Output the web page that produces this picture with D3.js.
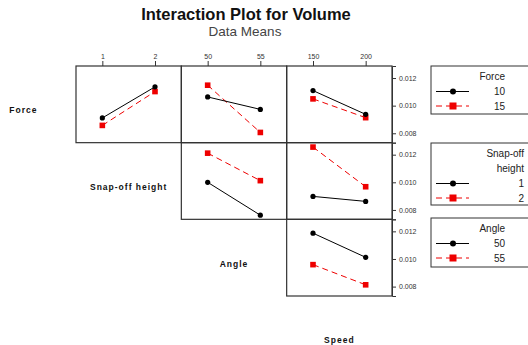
<!DOCTYPE html>
<html>
<head>
<meta charset="utf-8">
<script src="https://cdn.jsdelivr.net/npm/d3@7"></script>
<style>
  body { margin: 0; background: #fff; }
  svg { display: block; font-family: "Liberation Sans", Arial, sans-serif; }
</style>
</head>
<body>
<svg id="chart" width="528" height="345"></svg>
<script>
'use strict';

var factors = ['Force', 'Snap-off height', 'Angle', 'Speed'];
var levels = [[10, 15], [1, 2], [50, 55], [150, 200]];
var yTicks = [0.008, 0.010, 0.012];

// means: [trace level][x level]
var forceBySnap = [[0.00911, 0.01136], [0.00857, 0.01102]];
var forceByAngle = [[0.01063, 0.00973], [0.01148, 0.00806]];
var forceBySpeed = [[0.01109, 0.00937], [0.01049, 0.00913]];
var snapByAngle = [[0.01000, 0.00762], [0.01211, 0.01012]];
var snapBySpeed = [[0.00898, 0.00862], [0.01255, 0.00968]];
var angleBySpeed = [[0.01187, 0.01012], [0.00959, 0.00813]];

var panels = [
  {row: 0, col: 0, trace: 0, xf: 1, means: forceBySnap},
  {row: 0, col: 1, trace: 0, xf: 2, means: forceByAngle},
  {row: 0, col: 2, trace: 0, xf: 3, means: forceBySpeed},
  {row: 1, col: 1, trace: 1, xf: 2, means: snapByAngle},
  {row: 1, col: 2, trace: 1, xf: 3, means: snapBySpeed},
  {row: 2, col: 2, trace: 2, xf: 3, means: angleBySpeed}
];

var colors = ['#000000', '#ee0000'];
var dashes = [null, '6,4'];

var svg = d3.select('#chart');
var colX = d3.scaleLinear().domain([0, 3]).range([76, 392]);
var rowY = d3.scaleLinear().domain([0, 3]).range([66, 296]);
var cellW = colX(1) - colX(0), cellH = rowY(1) - rowY(0);

// title
svg.append('text').attr('x', 246).attr('y', 20).attr('text-anchor', 'middle')
  .attr('font-size', 16.5).attr('font-weight', 'bold').attr('fill', '#111')
  .text('Interaction Plot for Volume');
svg.append('text').attr('x', 245).attr('y', 36).attr('text-anchor', 'middle')
  .attr('font-size', 13.5).attr('fill', '#444').text('Data Means');

// diagonal labels
factors.forEach(function(f, i) {
  svg.append('text')
    .attr('x', colX(i - 1) + cellW / 2)
    .attr('y', rowY(i) + cellH / 2 + 9)
    .attr('text-anchor', 'middle')
    .attr('font-size', 8.5).attr('font-weight', 'bold')
    .attr('letter-spacing', 1).attr('fill', '#111')
    .text(f);
});

function xScaleFor(p) {
  var lv = levels[p.xf], d = lv[1] - lv[0];
  return d3.scaleLinear().domain([lv[0] - d / 2, lv[1] + d / 2])
    .range([colX(p.col), colX(p.col + 1)]);
}
function yScaleFor(row) {
  return d3.scaleLinear().domain([0.00732, 0.01287]).range([rowY(row + 1), rowY(row)]);
}

panels.forEach(function(p) {
  var x = xScaleFor(p), y = yScaleFor(p.row);
  var g = svg.append('g');
  g.append('rect')
    .attr('x', colX(p.col)).attr('y', rowY(p.row))
    .attr('width', cellW).attr('height', cellH)
    .attr('fill', 'none').attr('stroke', '#333').attr('stroke-width', 1.2);

  // draw red first so black sits on top
  [1, 0].forEach(function(t) {
    var pts = levels[p.xf].map(function(lv, k) { return [x(lv), y(p.means[t][k])]; });
    g.append('path').attr('d', d3.line()(pts))
      .attr('fill', 'none').attr('stroke', colors[t]).attr('stroke-width', 1)
      .attr('stroke-dasharray', dashes[t]);
    pts.forEach(function(pt) {
      if (t === 0) {
        g.append('circle').attr('cx', pt[0]).attr('cy', pt[1]).attr('r', 2.6).attr('fill', colors[t]);
      } else {
        g.append('rect').attr('x', pt[0] - 2.8).attr('y', pt[1] - 2.8)
          .attr('width', 5.6).attr('height', 5.6).attr('fill', colors[t]);
      }
    });
  });
});

// top x axes
[1, 2, 3].forEach(function(xf, c) {
  var x = xScaleFor({xf: xf, col: c});
  svg.append('g').attr('transform', 'translate(0,' + rowY(0) + ')')
    .call(d3.axisTop(x).tickValues(levels[xf]).tickSize(5).tickPadding(2).tickFormat(d3.format('d')))
    .call(function(a) {
      a.select('.domain').remove();
      a.selectAll('line').attr('stroke', '#333');
      a.selectAll('text').attr('font-size', 7).attr('fill', '#333')
        .attr('font-family', '"Liberation Sans", Arial, sans-serif');
    });
});

// right y axes
[0, 1, 2].forEach(function(r) {
  svg.append('g').attr('transform', 'translate(' + colX(3) + ',0)')
    .call(d3.axisRight(yScaleFor(r)).tickValues(yTicks).tickSize(4).tickPadding(3).tickFormat(d3.format('.3f')))
    .call(function(a) {
      a.select('.domain').attr('stroke', '#333');
      a.selectAll('line').attr('stroke', '#333');
      a.selectAll('text').attr('font-size', 7).attr('fill', '#333')
        .attr('font-family', '"Liberation Sans", Arial, sans-serif');
    });
});

// legends
var legends = [
  {top: 66, bottom: 114, title: ['Force'], labelX: 505, trace: 0},
  {top: 143, bottom: 205, title: ['Snap-off', 'height'], labelX: 524, trace: 1},
  {top: 218, bottom: 267, title: ['Angle'], labelX: 505, trace: 2}
];
legends.forEach(function(L) {
  var g = svg.append('g');
  g.append('rect').attr('x', 431).attr('y', L.top).attr('width', 120).attr('height', L.bottom - L.top)
    .attr('fill', '#fff').attr('stroke', '#333').attr('stroke-width', 1);
  var yy = L.top + 14;
  L.title.forEach(function(t) {
    g.append('text').attr('x', L.labelX).attr('y', yy).attr('text-anchor', 'end')
      .attr('font-size', 10).attr('fill', '#222').text(t);
    yy += 15;
  });
  levels[L.trace].forEach(function(lv, t) {
    var cy = yy - 3.5;
    g.append('line').attr('x1', 436).attr('x2', 469).attr('y1', cy).attr('y2', cy)
      .attr('stroke', colors[t]).attr('stroke-width', 1).attr('stroke-dasharray', dashes[t]);
    if (t === 0) {
      g.append('circle').attr('cx', 453).attr('cy', cy).attr('r', 3).attr('fill', colors[t]);
    } else {
      g.append('rect').attr('x', 449.5).attr('y', cy - 3.5).attr('width', 7).attr('height', 7).attr('fill', colors[t]);
    }
    g.append('text').attr('x', L.labelX).attr('y', yy).attr('text-anchor', 'end')
      .attr('font-size', 10).attr('fill', '#222').text(lv);
    yy += 14.5;
  });
});
</script>
</body>
</html>
